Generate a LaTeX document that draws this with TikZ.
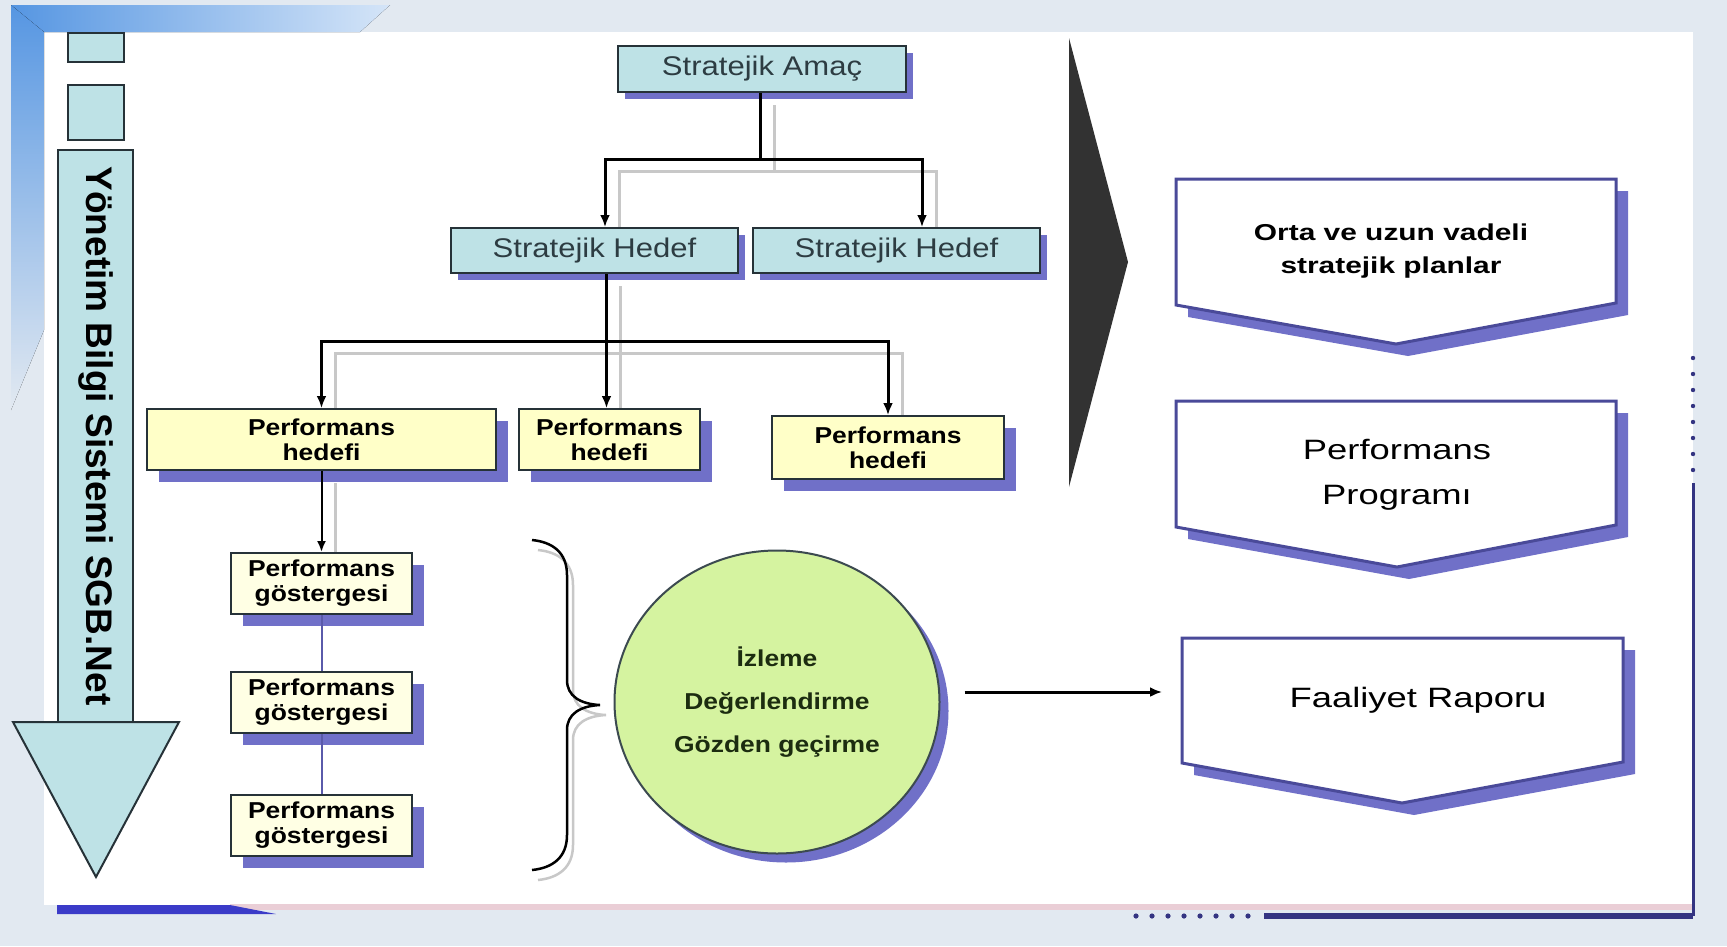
\documentclass[tikz,border=0pt]{standalone}
\usepackage{fontspec}
\setmainfont{Liberation Sans}
\newfontfamily\chartfont{Liberation Sans}[FakeStretch=1.15]
\newfontfamily\widefont{Liberation Sans}[FakeStretch=1.3]
\usepackage{xcolor}
\usetikzlibrary{positioning}
\usetikzlibrary{calc}
\usetikzlibrary{shapes.geometric}
\usetikzlibrary{shadows}
\usetikzlibrary{arrows.meta}
\usetikzlibrary{backgrounds}

\definecolor{pagebg}{RGB}{226,233,241}
\definecolor{bandblue}{RGB}{86,150,226}
\definecolor{tealfill}{RGB}{190,226,230}
\definecolor{boxline}{RGB}{38,50,56}
\definecolor{stratgray}{RGB}{45,60,66}
\definecolor{hedefyellow}{RGB}{255,255,200}
\definecolor{gostercream}{RGB}{255,255,228}
\definecolor{shadowblue}{RGB}{112,112,200}
\definecolor{pgblue}{RGB}{90,90,170}
\definecolor{planline}{RGB}{74,74,153}
\definecolor{izlgreen}{RGB}{213,243,160}
\definecolor{ellline}{RGB}{60,74,80}
\definecolor{izltext}{RGB}{28,44,16}
\definecolor{framenavy}{RGB}{52,52,130}
\definecolor{stripeblue}{RGB}{59,59,200}
\definecolor{stripepink}{RGB}{234,206,214}
\definecolor{ghostgray}{RGB}{200,200,200}
\definecolor{wedgegray}{RGB}{50,50,50}

\begin{document}
\begin{tikzpicture}[x=1pt, y=-1pt,
    shadowed/.style={drop shadow={shadow xshift=#1, shadow yshift=-#1, fill=shadowblue, opacity=1}},
    tealbox/.style={draw=boxline, line width=2, fill=tealfill, inner sep=0},
    stratbox/.style={tealbox, shadowed=7pt, text=stratgray, font=\chartfont\fontsize{27}{30}\selectfont},
    hedefbox/.style={draw=boxline, line width=2, fill=hedefyellow, inner sep=0, shadowed=12pt, align=center, font=\chartfont\bfseries\fontsize{23}{25}\selectfont},
    gostbox/.style={hedefbox, fill=gostercream},
    orgline/.style={line width=3},
    orgarrow/.style={orgline, -{Latex[length=12pt,width=10pt]}},
    ghost/.style={line width=3, ghostgray},
    planbox/.style={draw=planline, line width=3, fill=white, shadowed=12pt},
    plantext/.style={align=center, text=black}]
\useasboundingbox (0,0) rectangle (1727,946);

% slide background
\begin{pgfonlayer}{background}
\fill[pagebg] (0,0) rectangle (1727,946);
\fill[white] (44,32) rectangle (1693,905);
\fill[left color=bandblue, right color=bandblue!25!white] (11,5) -- (390,5) -- (360,32) -- (44,32) -- cycle;
\fill[top color=bandblue, bottom color=pagebg] (11,5) -- (44,32) -- (44,330) -- (11,410) -- cycle;
\fill[stripepink] (230,904) rectangle (1693,910);
\fill[stripeblue] (57,905) -- (230,905) -- (276,914) -- (57,914) -- cycle;
\end{pgfonlayer}

% left column
\node[tealbox, minimum width=56, minimum height=29] (sq1) at (96,47.5) {};
\node[tealbox, minimum width=56, minimum height=55] (sq2) at (96,112.5) {};
\node[tealbox, minimum width=75, minimum height=572] (bar) at (95.5,436) {};
\draw[draw=boxline, line width=2, fill=tealfill] (13,722) -- (179,722) -- (96,877) -- cycle;
\node[rotate=-90, font=\bfseries\fontsize{37}{40}\selectfont] (lbl) at (bar.center) {Yönetim Bilgi Sistemi SGB.Net};

% org chart
\node[stratbox, minimum width=288, minimum height=46] (amac) at (762,69) {Stratejik Amaç};
\node[stratbox, minimum width=287, minimum height=45] (sh1) at (594.5,250.5) {Stratejik Hedef};
\node[stratbox, minimum width=287, minimum height=45] (sh2) at (896.5,250.5) {Stratejik Hedef};

\node[hedefbox, minimum width=349, minimum height=61] (ph1) at (321.5,439.5) {Performans\\hedefi};
\node[hedefbox, minimum width=181, minimum height=61] (ph2) at (609.5,439.5) {Performans\\hedefi};
\node[hedefbox, minimum width=232, minimum height=63] (ph3) at (888,447.5) {Performans\\hedefi};

\node[gostbox, minimum width=181, minimum height=61] (pg1) at (321.5,583.5) {Performans\\göstergesi};
\node[gostbox, minimum width=181, minimum height=61] (pg2) at (321.5,702.5) {Performans\\göstergesi};
\node[gostbox, minimum width=181, minimum height=61] (pg3) at (321.5,825.5) {Performans\\göstergesi};

\coordinate (j1) at ($(amac.south)+(-2,66)$);
\coordinate (j2) at ($(sh1.south)+(12,67)$);

\begin{pgfonlayer}{background}
\begin{scope}[transform canvas={shift={(14,12)}}]
\draw[ghost] (amac.south -| j1) -- (j1) -| ($(sh1.north)+(10.5,0)$) (j1) -| ($(sh2.north)+(25.5,0)$);
\draw[ghost] (sh1.south -| j2) -- (j2) -| (ph1.north) (j2) -- (ph2.north -| j2) (j2) -| (ph3.north);
\draw[ghost] (ph1.south) -- (pg1.north);
\end{scope}
\end{pgfonlayer}

\draw[orgline] (amac.south -| j1) -- (j1);
\draw[orgarrow] (j1) -| ($(sh1.north)+(10.5,0)$);
\draw[orgarrow] (j1) -| ($(sh2.north)+(25.5,0)$);
\draw[orgline] (sh1.south -| j2) -- (j2);
\draw[orgarrow] (j2) -| (ph1.north);
\draw[orgarrow] (j2) -- (ph2.north -| j2);
\draw[orgarrow] (j2) -| (ph3.north);
\draw[line width=2, -{Latex[length=11pt,width=9pt]}] (ph1.south) -- (pg1.north);
\draw[line width=2, pgblue] (pg1.south) -- (pg2.north) (pg2.south) -- (pg3.north);

% brace
\draw[ghostgray, line width=2.5, shift={(6,10)}] (532,540) .. controls (552,542) and (567,552) .. (567,575) -- (567,680) .. controls (567,696) and (580,704) .. (600,705) .. controls (580,706) and (567,714) .. (567,730) -- (567,835) .. controls (567,858) and (552,868) .. (532,870);
\draw[black, line width=2.5] (532,540) .. controls (552,542) and (567,552) .. (567,575) -- (567,680) .. controls (567,696) and (580,704) .. (600,705) .. controls (580,706) and (567,714) .. (567,730) -- (567,835) .. controls (567,858) and (552,868) .. (532,870);

% monitoring
\node[ellipse, draw=ellline, line width=2, fill=izlgreen, minimum width=325, minimum height=303, inner sep=0, shadowed=9pt, align=center, text=izltext, font=\chartfont\bfseries\fontsize{23}{43}\selectfont] (izl) at (777,702) {İzleme\\Değerlendirme\\Gözden geçirme};
\coordinate (fin) at (1162,692);
\draw[line width=3, -{Latex[length=12pt,width=10pt]}] ($(izl.east)+(24,-10)$) -- (fin);

% right side
\fill[wedgegray] (1069,38) -- (1128,262) -- (1069,487) -- cycle;
\draw[planbox] (1176,179) -- (1616,179) -- (1616,303) -- (1396,344) -- (1176,305) -- cycle;
\node[plantext, font=\widefont\bfseries\fontsize{23}{33}\selectfont] (orta) at (1391,251) {Orta ve uzun vadeli\\stratejik planlar};
\draw[planbox] (1176,401) -- (1616,401) -- (1616,525) -- (1397,567) -- (1176,527) -- cycle;
\node[plantext, font=\widefont\fontsize{28}{45}\selectfont] (prog) at (1397,475) {Performans\\Programı};
\draw[planbox] (1182,638) -- (1623,638) -- (1623,762) -- (1402,803) -- (1182,763) -- cycle;
\node[plantext, font=\widefont\fontsize{28}{34}\selectfont] (faal) at (1418,700) {Faaliyet Raporu};

% frame
\foreach \x in {1136,1152,...,1248} \fill[framenavy] (\x,916) circle (2.6);
\foreach \y in {358,374,...,470} \fill[framenavy] (1693,\y) circle (2.2);
\draw[framenavy, line width=6] (1264,916) -- (1693,916);
\draw[framenavy, line width=3] (1693,916) -- (1693,483);
\end{tikzpicture}
\end{document}
